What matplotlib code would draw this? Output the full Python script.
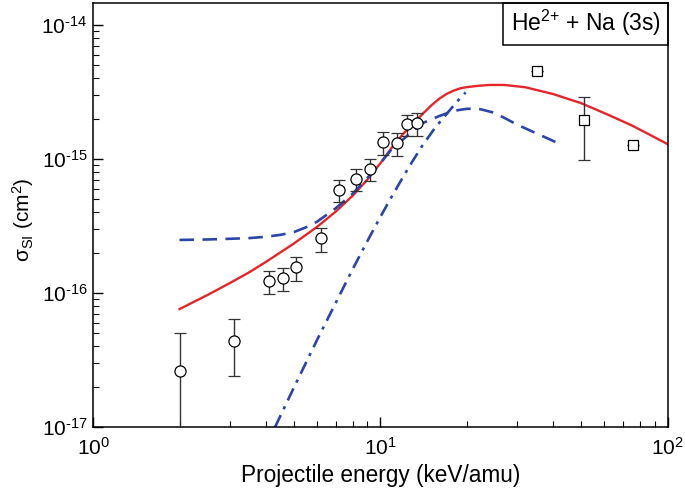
import numpy as np
import matplotlib
matplotlib.use('Agg')
import matplotlib.pyplot as plt
from matplotlib.ticker import FuncFormatter

plt.rcParams['font.family'] = ['Liberation Sans', 'DejaVu Sans']
plt.rcParams['mathtext.fontset'] = 'custom'
plt.rcParams['mathtext.rm'] = 'Liberation Sans'
plt.rcParams['mathtext.it'] = 'Liberation Sans:italic'
plt.rcParams['mathtext.default'] = 'regular'
plt.rcParams['axes.unicode_minus'] = False

# experimental data, open circles (keV/amu, cm^2)
circ_e = [2.0, 3.1, 4.1, 4.6, 5.1, 6.2, 7.2, 8.2, 9.2, 10.2, 11.4, 12.4, 13.4]
circ_s = [2.6e-17, 4.4e-17, 1.23e-16, 1.30e-16, 1.56e-16, 2.56e-16, 5.9e-16,
          7.1e-16, 8.4e-16, 1.34e-15, 1.32e-15, 1.82e-15, 1.85e-15]
circ_hi = [5.0e-17, 6.4e-17, 1.47e-16, 1.54e-16, 1.87e-16, 3.07e-16, 7.0e-16,
           8.4e-16, 1.0e-15, 1.59e-15, 1.56e-15, 2.13e-15, 2.19e-15]
circ_lo = [5.0e-18, 2.4e-17, 9.8e-17, 1.03e-16, 1.24e-16, 2.03e-16, 4.8e-16,
           5.8e-16, 6.9e-16, 1.07e-15, 1.05e-15, 1.49e-15, 1.49e-15]

# experimental data, open squares
sq_e = [35.0, 51.0, 76.0]
sq_s = [4.56e-15, 1.95e-15, 1.27e-15]
sq_hi = [4.56e-15, 2.92e-15, 1.27e-15]
sq_lo = [4.56e-15, 9.8e-16, 1.27e-15]

# theory: solid red
red_e = [2.0, 2.5, 3.0, 3.5, 4.0, 5.0, 6.0, 7.0, 8.0, 9.0, 10.0, 11.0, 12.0,
         13.0, 14.0, 15.0, 16.0, 17.0, 18.0, 19.0, 20.0, 22.0, 24.0, 27.0,
         32.0, 40.0, 50.0, 62.0, 75.0, 87.0, 100.0]
red_s = [7.59e-17, 9.66e-17, 1.19e-16, 1.43e-16, 1.71e-16, 2.34e-16, 3.10e-16,
         4.06e-16, 5.31e-16, 7.0e-16, 9.31e-16, 1.23e-15, 1.54e-15, 1.84e-15,
         2.16e-15, 2.50e-15, 2.81e-15, 3.06e-15, 3.24e-15, 3.37e-15, 3.44e-15,
         3.52e-15, 3.57e-15, 3.57e-15, 3.43e-15, 3.05e-15, 2.61e-15, 2.14e-15,
         1.78e-15, 1.51e-15, 1.29e-15]

# theory: blue dashed
dash_e = [2.0, 2.5, 3.0, 3.5, 4.0, 4.5, 5.0, 5.5, 6.0, 7.0, 8.0, 9.0, 10.0,
          11.0, 12.5, 14.0, 16.0, 18.0, 20.0, 22.0, 25.0, 30.0, 35.0, 43.0]
dash_s = [2.49e-16, 2.51e-16, 2.54e-16, 2.57e-16, 2.63e-16, 2.72e-16, 2.85e-16,
          3.09e-16, 3.39e-16, 4.3e-16, 5.5e-16, 7.2e-16, 9.3e-16, 1.2e-15,
          1.51e-15, 1.85e-15, 2.09e-15, 2.29e-15, 2.37e-15, 2.37e-15, 2.21e-15,
          1.8e-15, 1.55e-15, 1.27e-15]

# theory: blue dash-dot
dd_e = [4.3, 5.0, 6.0, 7.0, 8.0, 9.0, 10.0, 11.0, 12.0, 13.0, 14.0, 15.5, 17.0,
        18.5, 19.8]
dd_s = [1.0e-17, 1.97e-17, 4.4e-17, 8.5e-17, 1.50e-16, 2.43e-16, 3.70e-16,
        5.33e-16, 7.36e-16, 9.79e-16, 1.26e-15, 1.71e-15, 2.17e-15, 2.69e-15,
        3.14e-15]

ytick_vals = [1e-17, 1e-16, 1e-15, 1e-14]
xtick_vals = [1, 10, 100]

red = '#e3262b'
blue = '#2c45a6'

fig = plt.figure(figsize=(6.85, 4.96), dpi=100)
ax = fig.add_axes([0.1358, 0.139, 0.839, 0.855])

ax.plot(red_e, red_s, '-', color=red, lw=1.7, zorder=2)
ax.plot(dash_e, dash_s, color=blue, lw=1.9, dashes=(5.5, 3.2), zorder=2)
ax.plot(dd_e, dd_s, color=blue, lw=1.9, dashes=(5, 2.5, 1.2, 2.5), zorder=2)

circ_s = np.array(circ_s)
yerr = [circ_s - np.array(circ_lo), np.array(circ_hi) - circ_s]
ax.errorbar(circ_e, circ_s, yerr=yerr, fmt='o', ms=8, mfc='white', mec='black',
            mew=0.9, ecolor='#333333', elinewidth=1.0, capsize=4, capthick=1.0,
            zorder=3)
sq_s = np.array(sq_s)
yerr_sq = [sq_s - np.array(sq_lo), np.array(sq_hi) - sq_s]
ax.errorbar(sq_e, sq_s, yerr=yerr_sq, fmt='s', ms=7, mfc='white', mec='black',
            mew=0.9, ecolor='#333333', elinewidth=1.0, capsize=4, capthick=1.0,
            zorder=3)

ax.set_xscale('log')
ax.set_yscale('log')
ax.set_xlim(1, 100)
ax.set_ylim(1e-17, 1.46e-14)
ax.set_xticks(xtick_vals)
ax.set_yticks(ytick_vals)


def pow_label(v, pos):
    n = int(round(np.log10(v)))
    if n < 0:
        return r'$10^{\text{-%d}}$' % (-n)
    return r'$10^{%d}$' % n


ax.xaxis.set_major_formatter(FuncFormatter(pow_label))
ax.yaxis.set_major_formatter(FuncFormatter(pow_label))

ax.tick_params(which='both', direction='in', top=False, right=False,
               labelsize=15)
ax.tick_params(which='major', length=7, width=1.0)
ax.tick_params(which='minor', length=4, width=0.8)
ax.tick_params(axis='x', pad=7)
ax.tick_params(axis='y', pad=4)
for sp in ax.spines.values():
    sp.set_linewidth(1.1)

ax.set_xlabel('Projectile energy (keV/amu)', fontsize=16.3, labelpad=4)
ax.set_ylabel(r'σ$_{SI}$ (cm$^{2}$)', fontsize=15)
ax.yaxis.set_label_coords(-0.1, 0.49)

ax.text(0.857, 0.952, r'He$^{2{+}}$ + Na (3s)', transform=ax.transAxes,
        ha='center', va='center', fontsize=16.5)
box = plt.Rectangle((0.7125, 0.9), 0.2875, 0.1, transform=ax.transAxes,
                    fill=False, ec='black', lw=1.1, clip_on=False)
ax.add_patch(box)

fig.savefig('out.png', dpi=100)
